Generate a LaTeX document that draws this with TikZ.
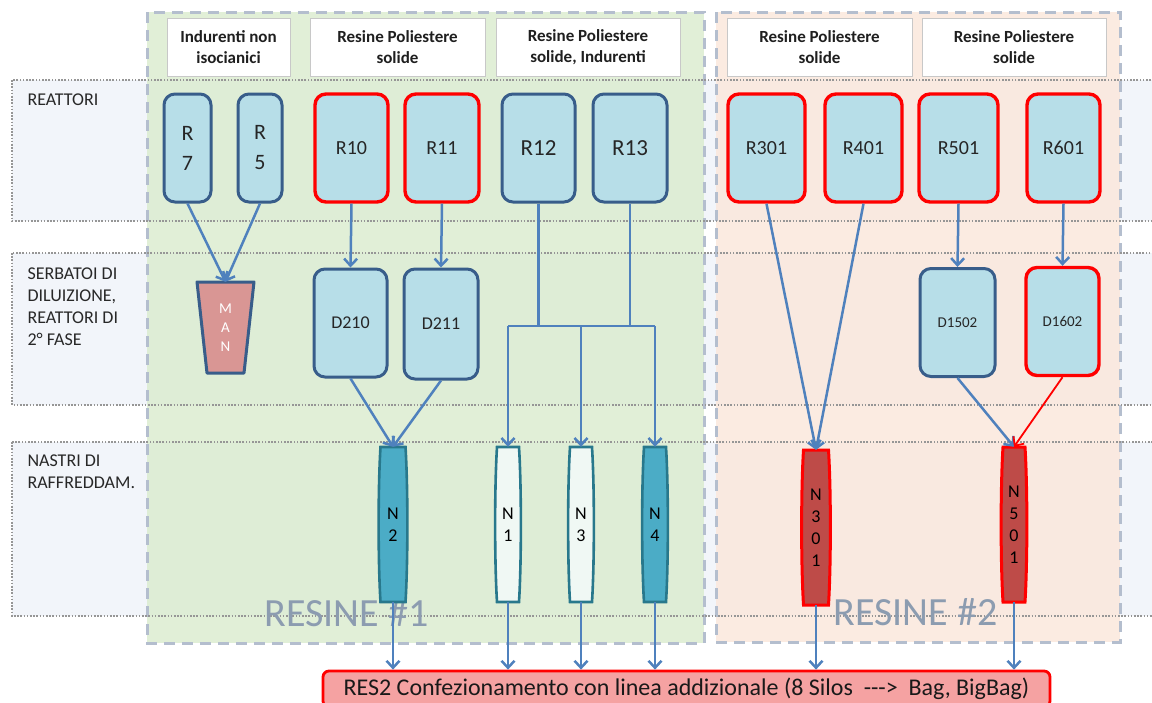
\documentclass[tikz,border=0pt]{standalone}
\usepackage{fontspec}
\setmainfont{Carlito}
\usetikzlibrary{arrows.meta}

\definecolor{laneback}{RGB}{242,245,250}
\definecolor{lanerule}{RGB}{150,150,150}
\definecolor{greenzone}{RGB}{218,235,206}
\definecolor{orangezone}{RGB}{251,231,218}
\definecolor{zonerule}{RGB}{180,190,206}
\definecolor{boxblue}{RGB}{183,222,232}
\definecolor{rimblue}{RGB}{56,93,138}
\definecolor{rimred}{RGB}{255,0,0}
\definecolor{flowblue}{RGB}{79,129,189}
\definecolor{beltteal}{RGB}{75,172,198}
\definecolor{beltrim}{RGB}{40,120,140}
\definecolor{beltlight}{RGB}{240,248,244}
\definecolor{beltred}{RGB}{190,75,72}
\definecolor{manfill}{RGB}{217,150,148}
\definecolor{packfill}{RGB}{245,162,162}
\definecolor{headrule}{RGB}{200,200,200}
\definecolor{zonetext}{RGB}{140,156,176}
\definecolor{labeltext}{RGB}{40,40,40}

\newcommand\setfs[2]{\fontsize{#1}{#2}\selectfont}

% cooling belt: name, centre x, top y, bottom y, half width, path style, text
\newcommand\belt[7]{%
  \path[#6] (#2-#5+1.5,#3) -- (#2+#5-1.5,#3)
    .. controls (#2+#5+1,#3+40) and (#2+#5+1,#4-40) .. (#2+#5-1.5,#4)
    -- (#2-#5+1.5,#4)
    .. controls (#2-#5-1,#4-40) and (#2-#5-1,#3+40) .. cycle;
  \node[belttext, minimum width=2*#5, minimum height=#4-#3] (#1) at (#2,{(#3+#4)/2}) {#7};
}

\begin{document}
\begin{tikzpicture}[x=1pt,y=-1pt,
  lane/.style={fill=laneback},
  lanerim/.style={draw=lanerule, line width=1.1pt, dash pattern=on 1.6pt off 1.6pt},
  zonerim/.style={draw=zonerule, line width=3pt, dash pattern=on 11pt off 7pt},
  header/.style={draw=headrule, line width=0.8pt, fill=white, align=center, inner sep=0pt,
    font=\setfs{17}{21}\bfseries, text=black!88, minimum height=58},
  vessel/.style={draw=rimblue, line width=3pt, fill=boxblue, rounded corners=11pt,
    inner sep=0pt, minimum height=108, align=center, text=black!85, font=\setfs{20}{24}},
  hot/.style={draw=rimred, line width=3.4pt},
  belttext/.style={inner sep=0pt, align=center, text=black, font=\setfs{18}{22}},
  lanelabel/.style={anchor=west, align=left, text=labeltext, font=\setfs{18}{22}},
  zonelabel/.style={anchor=west, text=zonetext, font=\setfs{40}{40}},
  flow/.style={draw=flowblue, line width=2.5pt, -{Straight Barb[length=7pt,width=13pt]}},
  joint/.style={draw=flowblue, line width=2.5pt},
  pack/.style={draw=rimred, line width=2.8pt, fill=packfill, rounded corners=6pt,
    inner sep=0pt, font=\setfs{24}{26}, text=black!90}]

\clip (0,0) rectangle (1152,702);
\fill[white] (0,0) rectangle (1152,702);

% process lanes
\path[lane] (12,80) rectangle (1170,221);
\path[lane] (12,253) rectangle (1170,405);
\path[lane] (12,442) rectangle (1170,616);

% plant areas
\fill[greenzone, fill opacity=0.8] (147,12) rectangle (704,643);
\fill[orangezone, fill opacity=0.8] (716,12) rectangle (1120,642);
\draw[zonerim] (147,12) rectangle (704,643);
\draw[zonerim] (716,12) rectangle (1120,642);

\draw[lanerim] (12,80) rectangle (1170,221);
\draw[lanerim] (12,253) rectangle (1170,405);
\draw[lanerim] (12,442) rectangle (1170,616);

% lane titles
\node[lanelabel] (labR) at (24,100) {REATTORI};
\node[lanelabel] (labS) at (24,306.5) {SERBATOI DI\\DILUIZIONE,\\REATTORI DI\\2° FASE};
\node[lanelabel] (labN) at (24,471.5) {NASTRI DI\\RAFFREDDAM.};

% area titles
\node[zonelabel] (zone1) at (261,613) {RESINE \#1};
\node[zonelabel] (zone2) at (830,612) {RESINE \#2};

% product headers
\node[header, minimum width=123] (H1) at (228.5,47) {Indurenti non\\isocianici};
\node[header, minimum width=175] (H2) at (397.5,47) {Resine Poliestere\\solide};
\node[header, minimum width=184] (H3) at (588,47) {Resine Poliestere\\solide, Indurenti};
\node[header, minimum width=185] (H4) at (819.5,47) {Resine Poliestere\\solide};
\node[header, minimum width=184] (H5) at (1014,47) {Resine Poliestere\\solide};

% reactors
\node[vessel, minimum width=47, font=\setfs{22}{30}] (R7) at (187.5,148) {R\\7};
\node[vessel, minimum width=44, font=\setfs{22}{30}] (R5) at (260,148) {R\\5};
\node[vessel, hot, minimum width=73] (R10) at (351.5,148) {R10};
\node[vessel, hot, minimum width=74] (R11) at (442,148) {R11};
\node[vessel, minimum width=73, font=\setfs{23}{26}] (R12) at (538.5,148) {R12};
\node[vessel, minimum width=74, font=\setfs{23}{26}] (R13) at (630,148) {R13};
\node[vessel, hot, minimum width=77] (R301) at (766.5,148) {R301};
\node[vessel, hot, minimum width=77] (R401) at (863.5,148) {R401};
\node[vessel, hot, minimum width=79] (R501) at (958.5,148) {R501};
\node[vessel, hot, minimum width=73] (R601) at (1063.5,148) {R601};

% dilution tanks and second-stage reactors
\path[fill=manfill, draw=rimblue, line width=3pt, line join=round]
  (197,282) -- (254,282) -- (244,373) -- (207,373) -- cycle;
\node[inner sep=0pt, minimum width=57, minimum height=91, align=center, text=white,
  font=\setfs{15}{19}] (MAN) at (225.5,327.5) {M\\A\\N};
\node[vessel, minimum width=73, font=\setfs{18}{22}] (D210) at (350.5,323) {D210};
\node[vessel, minimum width=74, minimum height=110, font=\setfs{18}{22}] (D211) at (441,324) {D211};
\node[vessel, minimum width=75, font=\setfs{15}{18}] (D1502) at (957.5,322.5) {D1502};
\node[vessel, hot, minimum width=73, font=\setfs{15}{18}] (D1602) at (1062.5,321.5) {D1602};

% cooling belts
\belt{N2}{393}{447}{602}{14}{fill=beltteal, draw=beltrim, line width=2.6pt}{N\\2}
\belt{N1}{508}{447}{602}{12.5}{fill=beltlight, draw=beltrim, line width=2.6pt}{N\\1}
\belt{N3}{581}{447}{602}{12.5}{fill=beltlight, draw=beltrim, line width=2.6pt}{N\\3}
\belt{N4}{655}{447}{602}{12.5}{fill=beltteal, draw=beltrim, line width=2.6pt}{N\\4}
\belt{N301}{816}{450}{605}{14}{fill=beltred, draw=rimred, line width=3pt}{N\\3\\0\\1}
\belt{N501}{1014}{447}{602}{12.5}{fill=beltred, draw=rimred, line width=3pt}{N\\5\\0\\1}

% packaging line
\node[pack, minimum width=727, minimum height=36] (PACK) at (686.5,689)
  {RES2 Confezionamento con linea addizionale (8 Silos \ -{}-{}->\ \ Bag, BigBag)};

% flows
\draw[flow] (R7.south) -- (MAN.north);
\draw[flow] (R5.south) -- (MAN.north);
\draw[flow] (R10.south) -- (D210.north);
\draw[flow] (R11.south) -- (D211.north);
\draw[flow] (D210.south) -- (N2.north);
\draw[flow] (D211.south) -- (N2.north);

\coordinate (bus) at (0,326);
\draw[joint] (R12.south) -- (R12.south |- bus);
\draw[joint] (R13.south) -- (R13.south |- bus);
\draw[joint] (N1.north |- bus) -- (N4.north |- bus);
\draw[flow] (N1.north |- bus) -- (N1.north);
\draw[flow] (N3.north |- bus) -- (N3.north);
\draw[flow] (N4.north |- bus) -- (N4.north);

\draw[flow] (R301.south) -- (N301.north);
\draw[flow] (R401.south) -- (N301.north);
\draw[flow] (R501.south) -- (D1502.north);
\draw[flow] (R601.south) -- (D1602.north);
\draw[flow] (D1502.south) -- (N501.north);
\draw[flow, draw=rimred, line width=1.8pt] (D1602.south) -- (N501.north);

\foreach \b in {N2,N1,N3,N4,N301,N501}
  \draw[flow] (\b.south) -- (\b.south |- PACK.north);
\end{tikzpicture}
\end{document}
